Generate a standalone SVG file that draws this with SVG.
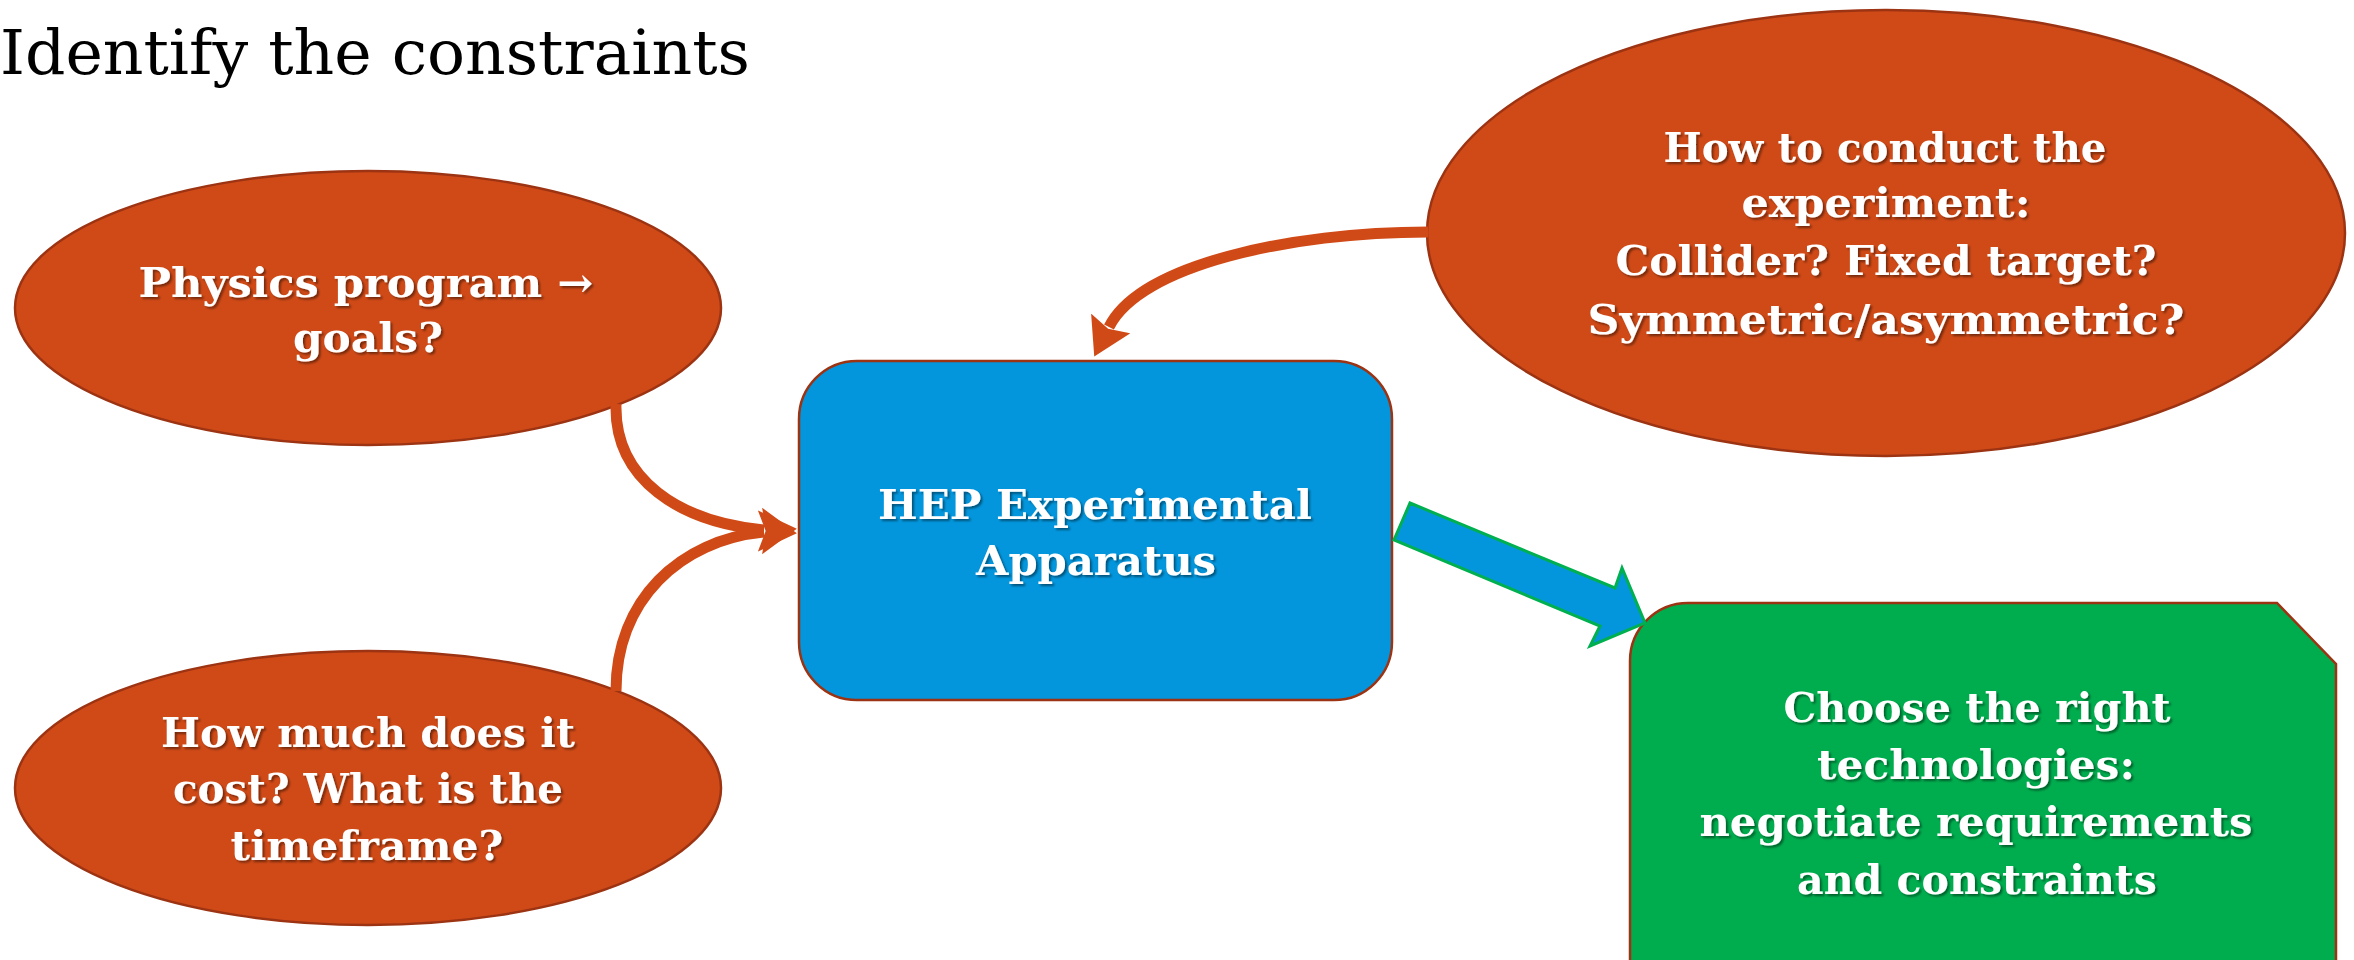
<svg xmlns="http://www.w3.org/2000/svg" width="2354" height="960" viewBox="0 0 2354 960">
  <style>
    .orange { fill: #D04A17; stroke: #9C3312; stroke-width: 2.5; }
    .blue { fill: #0396DD; stroke: #9C3312; stroke-width: 2.5; }
    .green { fill: #00AD4E; stroke: #9C3312; stroke-width: 2.5; }
    .lbl { font-family: "DejaVu Serif", "Liberation Serif", serif; font-weight: bold; font-size: 41px; fill: #FFFFFF; text-anchor: middle; filter: url(#shadow); }
    .title { font-family: "DejaVu Serif", "Liberation Serif", serif; font-size: 62px; fill: #000000; }
    .curve { fill: none; stroke: #D04A17; stroke-width: 11; marker-end: url(#head); }
  </style>
  <defs>
    <filter id="shadow" x="-10%" y="-30%" width="120%" height="160%">
      <feDropShadow dx="2" dy="2" stdDeviation="1" flood-color="#000000" flood-opacity="0.45"/>
    </filter>
    <marker id="head" markerUnits="userSpaceOnUse" viewBox="0 0 40 44" refX="4" refY="22" markerWidth="40" markerHeight="44" orient="auto">
      <path d="M0 0 L37 22 L0 44 L6 22 Z" fill="#D04A17"/>
    </marker>
  </defs>
  <rect width="2354" height="960" fill="#FFFFFF"/>

  <text class="title" x="0" y="74" textLength="750" lengthAdjust="spacingAndGlyphs">Identify the constraints</text>

  <g id="node-physics">
    <ellipse class="orange" cx="368" cy="308" rx="353" ry="137"/>
    <text class="lbl" x="366" y="297" textLength="455" lengthAdjust="spacingAndGlyphs">Physics program →</text>
    <text class="lbl" x="368" y="352" textLength="150" lengthAdjust="spacingAndGlyphs">goals?</text>
  </g>

  <g id="node-cost">
    <ellipse class="orange" cx="368" cy="788" rx="353" ry="137"/>
    <text class="lbl" x="368" y="747" textLength="414" lengthAdjust="spacingAndGlyphs">How much does it</text>
    <text class="lbl" x="368" y="803" textLength="390" lengthAdjust="spacingAndGlyphs">cost? What is the</text>
    <text class="lbl" x="367" y="860" textLength="273" lengthAdjust="spacingAndGlyphs">timeframe?</text>
  </g>

  <g id="node-apparatus">
    <rect class="blue" x="799" y="361" width="593" height="339" rx="58" ry="58"/>
    <text class="lbl" x="1095" y="519" textLength="434" lengthAdjust="spacingAndGlyphs">HEP Experimental</text>
    <text class="lbl" x="1096" y="575" textLength="240" lengthAdjust="spacingAndGlyphs">Apparatus</text>
  </g>

  <g id="node-conduct">
    <ellipse class="orange" cx="1886" cy="233" rx="459" ry="223"/>
    <text class="lbl" x="1885" y="162" textLength="443" lengthAdjust="spacingAndGlyphs">How to conduct the</text>
    <text class="lbl" x="1886" y="217" textLength="289" lengthAdjust="spacingAndGlyphs">experiment:</text>
    <text class="lbl" x="1886" y="275" textLength="541" lengthAdjust="spacingAndGlyphs">Collider? Fixed target?</text>
    <text class="lbl" x="1886" y="334" textLength="597" lengthAdjust="spacingAndGlyphs">Symmetric/asymmetric?</text>
  </g>

  <g id="node-technologies">
    <path class="green" d="M1630 970 L1630 661 A58 58 0 0 1 1688 603 L2277 603 L2336 664 L2336 970 Z"/>
    <text class="lbl" x="1977" y="722" textLength="387" lengthAdjust="spacingAndGlyphs">Choose the right</text>
    <text class="lbl" x="1976" y="779" textLength="318" lengthAdjust="spacingAndGlyphs">technologies:</text>
    <text class="lbl" x="1976" y="836" textLength="553" lengthAdjust="spacingAndGlyphs">negotiate requirements</text>
    <text class="lbl" x="1977" y="894" textLength="360" lengthAdjust="spacingAndGlyphs">and constraints</text>
  </g>

  <g id="connectors">
    <path class="curve" d="M616 404 C614 480 680 522 764 530"/>
    <path class="curve" d="M616 691 C616 600 680 540 764 532"/>
    <path class="curve" d="M1428 232 C1290 232 1140 265 1109 327"/>
    <polygon points="1410,503 1615,588 1622,568 1645,623 1590,646 1600,626 1394,540" fill="#0396DD" stroke="#00B050" stroke-width="3" stroke-linejoin="miter"/>
  </g>
</svg>
